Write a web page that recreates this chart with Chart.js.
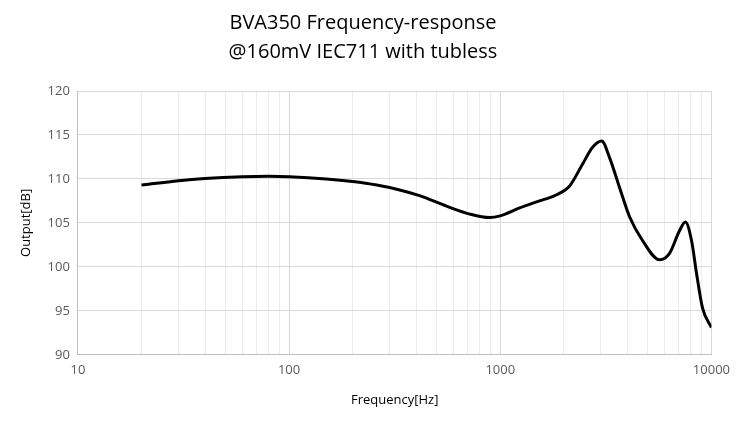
<!DOCTYPE html>
<html>
<head>
<meta charset="utf-8">
<script src="https://cdn.jsdelivr.net/npm/chart.js@4"></script>
<style>
  body { margin: 0; background: #fff; }
  #wrap { width: 738px; height: 428px; }
</style>
</head>
<body>
<div id="wrap"><canvas id="fr" width="738" height="428"></canvas></div>
<script>
// frequency response
const freqHz = [20, 30, 40, 60, 80, 100, 150, 200, 260, 334, 415, 557, 717, 891, 1000,
  1236, 1487, 1849, 2130, 2455, 2737, 3020, 3296, 3675, 4096, 4718, 5680, 6320,
  7060, 7530, 8050, 8510, 9080, 10000];
const outputDb = [109.3, 109.8, 110.05, 110.25, 110.3, 110.25, 110.0, 109.7, 109.3, 108.75, 108.1, 106.9, 106.0, 105.6, 105.8,
  106.7, 107.4, 108.2, 109.2, 111.7, 113.6, 114.3, 112.4, 109.0, 105.7, 103.0, 100.8, 101.5,
  104.1, 105.1, 103.0, 99.2, 95.3, 93.1];

const titleLines = ['BVA350 Frequency-response', '@160mV IEC711 with tubless'];
const decadeLabels = [10, 100, 1000, 10000];

const font = 'Open Sans';
const textColor = '#595959';

function isDecade(v) {
  return decadeLabels.includes(Math.round(v));
}

new Chart(document.getElementById('fr'), {
  type: 'line',
  data: {
    datasets: [{
      data: freqHz.map((f, i) => ({ x: f, y: outputDb[i] })),
      borderColor: '#000',
      borderWidth: 3,
      pointRadius: 0,
      cubicInterpolationMode: 'monotone',
      fill: false
    }]
  },
  options: {
    responsive: false,
    animation: false,
    layout: { padding: { left: 14, right: 26, top: 0, bottom: 16 } },
    plugins: {
      legend: { display: false },
      tooltip: { enabled: false },
      title: {
        display: true,
        text: titleLines,
        color: '#000',
        font: { family: font, size: 20, weight: 'normal', lineHeight: 1.45 },
        padding: { top: 9, bottom: 24 }
      }
    },
    scales: {
      x: {
        type: 'logarithmic',
        min: 10,
        max: 10000,
        afterBuildTicks(axis) {
          const t = [];
          for (let d = 10; d <= 1000; d *= 10) {
            for (let m = 1; m < 10; m++) t.push({ value: d * m });
          }
          t.push({ value: 10000 });
          axis.ticks = t;
        },
        ticks: {
          autoSkip: false,
          maxRotation: 0,
          color: textColor,
          font: { family: font, size: 13 },
          padding: 8,
          callback(v) { return isDecade(v) ? String(Math.round(v)) : ''; }
        },
        grid: {
          color(ctx) {
            return isDecade(ctx.tick.value) ? '#d9d9d9' : '#ececec';
          },
          drawTicks: false
        },
        border: { color: '#bfbfbf' },
        title: {
          display: true,
          text: 'Frequency[Hz]',
          color: '#000',
          font: { family: font, size: 13 },
          padding: { top: 6 }
        }
      },
      y: {
        min: 90,
        max: 120,
        ticks: {
          stepSize: 5,
          color: textColor,
          font: { family: font, size: 13 },
          padding: 8
        },
        grid: { color: '#d9d9d9', drawTicks: false },
        border: { color: '#bfbfbf' },
        title: {
          display: true,
          text: 'Output[dB]',
          color: '#000',
          font: { family: font, size: 13 },
          padding: { bottom: 6 }
        }
      }
    }
  }
});
</script>
</body>
</html>
